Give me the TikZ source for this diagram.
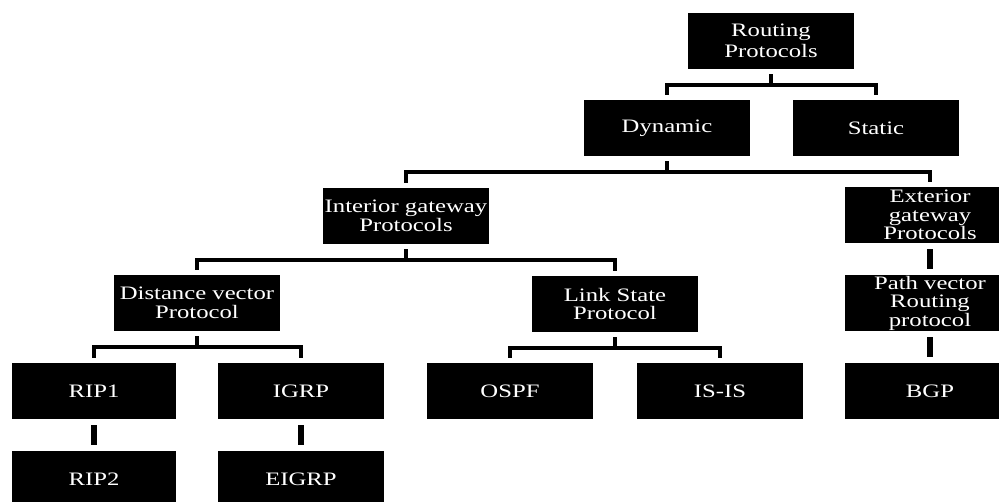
\documentclass[tikz,border=0pt]{standalone}
\usepackage{fontspec}
\setmainfont{Liberation Serif}[FakeStretch=1.3]
\usetikzlibrary{positioning}
\tikzset{
    proto/.style={
        rectangle,
        fill=black,
        text=white,
        inner sep=0pt,
        minimum width=#1,
        minimum height=56pt,
        align=center,
        font=\fontsize{19}{18.5}\selectfont
    },
    proto/.default=166pt,
    branch/.style={
        line width=4.5pt,
        line join=miter
    },
    stem/.style={
        line width=6.5pt,
        shorten >=6pt,
        shorten <=6pt
    }
}

\begin{document}
\begin{tikzpicture}[x=1pt,y=-1pt]
    \useasboundingbox (0,0) rectangle (999,502);
    \clip (0,0) rectangle (999,502);

    % Root
    \node[proto, font=\fontsize{19}{21}\selectfont] (root) at (771,41) {Routing\\Protocols};

    % Dynamic / static
    \node[proto] (dynamic) at (667,128) {Dynamic};
    \node[proto] (static) at (876,128) {Static};

    % Gateway protocols
    \node[proto] (igp) at (406,216) {Interior gateway\\Protocols};
    \node[proto=170pt] (egp) at (930,215) {Exterior\\gateway\\Protocols};

    % Protocol families
    \node[proto] (dvp) at (197,303) {Distance vector\\Protocol};
    \node[proto] (lsp) at (615,304) {Link State\\Protocol};
    \node[proto=170pt] (pvp) at (930,303) {Path vector\\Routing\\protocol};

    % Protocols
    \node[proto=164pt] (rip1) at (94,391) {RIP1};
    \node[proto] (igrp) at (301,391) {IGRP};
    \node[proto] (ospf) at (510,391) {OSPF};
    \node[proto] (isis) at (720,391) {IS-IS};
    \node[proto=170pt] (bgp) at (930,391) {BGP};

    % Successors
    \node[proto=164pt] (rip2) at (94,479) {RIP2};
    \node[proto] (eigrp) at (301,479) {EIGRP};

    % Forks
    \foreach \p/\c in {root/dynamic, root/static, dynamic/igp, dynamic/egp,
                       igp/dvp, igp/lsp, dvp/rip1, dvp/igrp, lsp/ospf, lsp/isis}
        \draw[branch] ([yshift=-5pt]\p.south) -- ++(0,-11pt) -| ([yshift=5pt]\c.north);

    % Single links
    \foreach \p/\c in {egp/pvp, pvp/bgp, rip1/rip2, igrp/eigrp}
        \draw[stem] (\p) -- (\c);
\end{tikzpicture}
\end{document}
